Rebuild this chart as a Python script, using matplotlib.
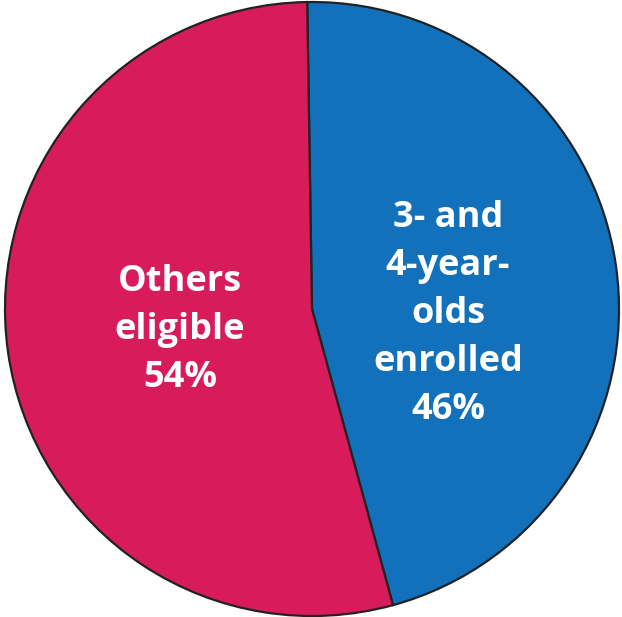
import matplotlib.pyplot as plt

labels = ["3- and\n4-year-\nolds\nenrolled\n46%", "Others\neligible\n54%"]
shares = [46, 54]
colors = ["#1271BA", "#D81B5A"]

W, H = 622, 617
fig = plt.figure(figsize=(W / 100, H / 100), dpi=100)
ax = fig.add_axes([0, 0, 1, 1])

ax.pie(
    shares,
    colors=colors,
    center=(312, H - 309),
    radius=307,
    startangle=90.9,
    counterclock=False,
    wedgeprops=dict(edgecolor="#222222", linewidth=1.6),
    frame=True,
)
ax.set_xlim(0, W)
ax.set_ylim(0, H)
ax.axis("off")

# label positions (pixel coords from top)
label_pos = [(448, 314), (180, 330)]
for text, (x, y) in zip(labels, label_pos):
    ax.text(x, H - y, text, ha="center", va="center", color="white",
            fontsize=26, fontweight="bold", family="Open Sans",
            linespacing=1.45)

fig.savefig("out.png", dpi=100)
